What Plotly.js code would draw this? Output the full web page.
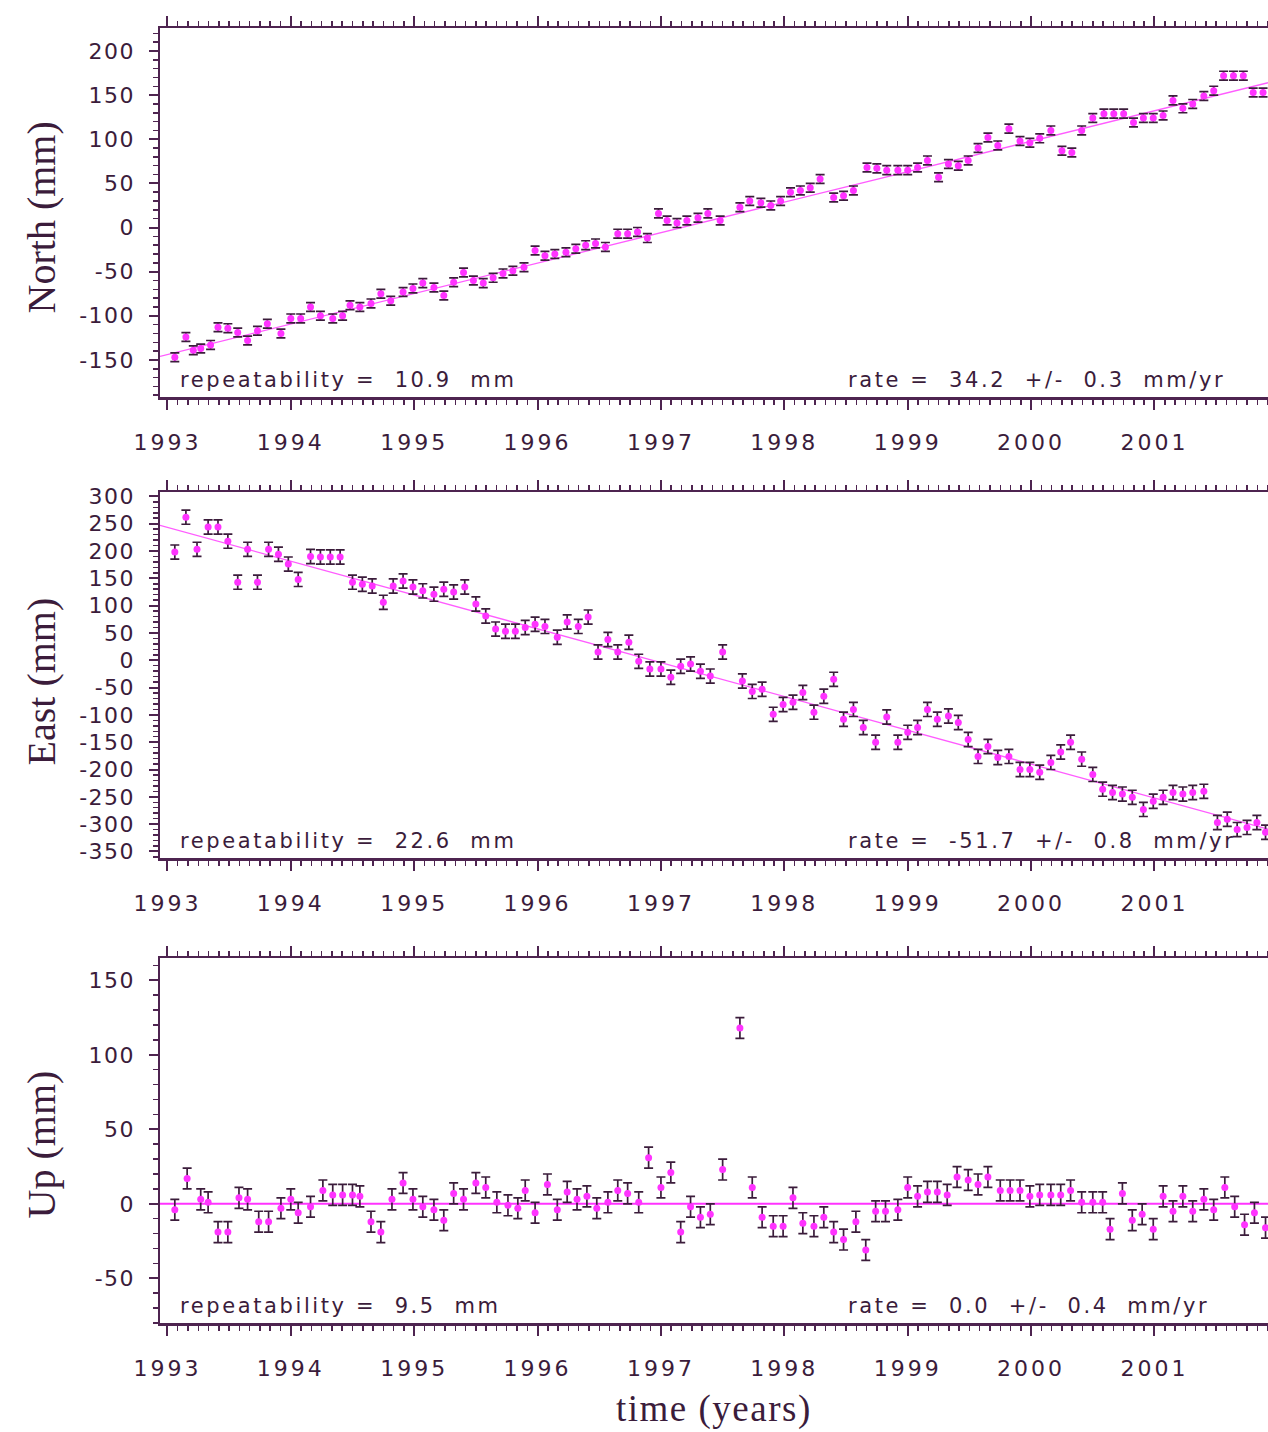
<!DOCTYPE html>
<html>
<head>
<meta charset="utf-8">
<script src="https://cdn.plot.ly/plotly-3.0.1.min.js"></script>
<style>
html,body{margin:0;padding:0;background:#fff;overflow:hidden;}
#chart{width:1268px;height:1432px;}
</style>
</head>
<body>
<div id="chart"></div>
<script>
// ---- North component (decimal year, mm) ----
const tN = [1993.06,1993.15,1993.21,1993.27,1993.35,1993.41,1993.49,1993.57,1993.65,1993.73,1993.81,1993.92,1994.00,1994.08,1994.16,1994.24,1994.34,1994.42,1994.48,1994.56,1994.65,1994.73,1994.81,1994.91,1994.99,1995.07,1995.16,1995.24,1995.32,1995.40,1995.48,1995.56,1995.64,1995.72,1995.80,1995.89,1995.98,1996.06,1996.14,1996.23,1996.31,1996.39,1996.47,1996.55,1996.65,1996.73,1996.81,1996.89,1996.98,1997.05,1997.13,1997.21,1997.30,1997.38,1997.48,1997.64,1997.72,1997.81,1997.89,1997.97,1998.05,1998.13,1998.21,1998.29,1998.40,1998.48,1998.56,1998.67,1998.75,1998.83,1998.92,1999.00,1999.08,1999.16,1999.25,1999.33,1999.41,1999.49,1999.57,1999.65,1999.73,1999.82,1999.91,1999.99,2000.07,2000.16,2000.25,2000.33,2000.41,2000.50,2000.59,2000.67,2000.75,2000.83,2000.91,2000.99,2001.07,2001.15,2001.23,2001.31,2001.40,2001.48,2001.56,2001.64,2001.72,2001.80,2001.88];
const vN = [-147,-124,-139,-137,-133,-113,-114,-119,-128,-117,-109,-120,-103,-103,-90,-100,-103,-100,-88,-90,-86,-75,-83,-73,-69,-63,-68,-77,-62,-51,-60,-63,-57,-52,-49,-45,-26,-32,-30,-28,-24,-20,-18,-22,-7,-7,-5,-12,16,8,5,8,11,16,8,23,30,28,25,30,40,42,45,55,34,36,42,68,67,65,65,65,68,76,57,72,70,76,90,102,93,112,98,96,101,110,87,85,110,124,129,129,129,119,124,124,127,144,135,140,149,155,172,172,172,153,153];

// ---- East component ----
const tE = [1993.06,1993.15,1993.24,1993.33,1993.41,1993.49,1993.57,1993.65,1993.73,1993.82,1993.90,1993.98,1994.06,1994.16,1994.24,1994.32,1994.40,1994.50,1994.58,1994.66,1994.75,1994.83,1994.91,1994.99,1995.07,1995.16,1995.24,1995.32,1995.41,1995.50,1995.58,1995.66,1995.74,1995.82,1995.90,1995.98,1996.06,1996.16,1996.24,1996.33,1996.41,1996.49,1996.57,1996.65,1996.74,1996.82,1996.91,1997.00,1997.08,1997.16,1997.24,1997.32,1997.40,1997.50,1997.66,1997.74,1997.82,1997.91,1997.99,1998.07,1998.15,1998.24,1998.32,1998.40,1998.48,1998.56,1998.64,1998.74,1998.83,1998.92,1999.00,1999.08,1999.16,1999.24,1999.33,1999.41,1999.49,1999.57,1999.65,1999.73,1999.82,1999.91,1999.99,2000.07,2000.16,2000.24,2000.32,2000.41,2000.50,2000.58,2000.66,2000.74,2000.82,2000.91,2000.99,2001.07,2001.15,2001.23,2001.31,2001.40,2001.51,2001.59,2001.67,2001.75,2001.83,2001.90];
const vE = [198,262,203,244,244,218,143,203,143,203,194,176,148,190,189,189,189,143,139,136,106,136,145,134,127,121,130,125,134,103,81,57,53,53,60,66,62,42,70,62,79,15,38,15,33,-2,-16,-16,-31,-11,-7,-20,-29,15,-38,-57,-53,-99,-81,-77,-59,-95,-66,-35,-108,-90,-123,-150,-104,-150,-132,-123,-90,-108,-102,-114,-145,-176,-158,-178,-176,-200,-200,-205,-187,-168,-150,-181,-209,-236,-242,-245,-251,-273,-258,-251,-242,-245,-242,-240,-297,-291,-310,-306,-297,-315];

// ---- Up component ----
const tU = [1993.06,1993.16,1993.27,1993.33,1993.41,1993.49,1993.58,1993.65,1993.74,1993.82,1993.92,1994.00,1994.06,1994.16,1994.26,1994.34,1994.42,1994.50,1994.56,1994.65,1994.73,1994.82,1994.91,1994.99,1995.07,1995.16,1995.24,1995.32,1995.40,1995.50,1995.58,1995.67,1995.76,1995.84,1995.90,1995.98,1996.08,1996.16,1996.24,1996.32,1996.40,1996.48,1996.57,1996.65,1996.73,1996.82,1996.90,1997.00,1997.08,1997.16,1997.24,1997.32,1997.40,1997.50,1997.64,1997.74,1997.82,1997.91,1997.99,1998.07,1998.15,1998.24,1998.32,1998.40,1998.48,1998.58,1998.66,1998.74,1998.82,1998.92,1999.00,1999.08,1999.16,1999.24,1999.32,1999.40,1999.49,1999.57,1999.65,1999.75,1999.83,1999.91,1999.99,2000.07,2000.16,2000.24,2000.32,2000.41,2000.50,2000.58,2000.64,2000.74,2000.82,2000.90,2000.99,2001.07,2001.15,2001.23,2001.31,2001.40,2001.48,2001.57,2001.65,2001.73,2001.81,2001.90];
const vU = [-4,17,3,1,-19,-19,4,3,-12,-12,-3,3,-6,-2,9,6,6,6,5,-12,-19,3,14,3,-2,-4,-11,7,3,14,11,1,-1,-3,9,-6,13,-4,8,3,5,-3,1,9,7,1,31,11,21,-19,-2,-9,-7,23,118,11,-9,-15,-15,4,-13,-15,-9,-19,-24,-12,-31,-5,-5,-4,11,5,8,8,6,18,16,13,18,9,9,9,5,6,6,6,9,1,1,1,-17,7,-11,-7,-17,5,-5,5,-5,3,-4,11,-2,-14,-6,-16];

// ---- fitted trend lines (end points) ----
const fitT = [1992.94, 2001.92];
const fitN = [-146, 164];
const fitE = [247, -309];
const fitU = [0, 0];

// ---- error bar sizes (mm) ----
const errN = 5, errE = 13, errU = 7;

// ---- tick labels ----
const yearTicks = [1993, 1994, 1995, 1996, 1997, 1998, 1999, 2000, 2001];
const northTicks = [-150, -100, -50, 0, 50, 100, 150, 200];
const northLabels = ['-150', '-100', '-50', '0', '50', '100', '150', '200'];
const eastTicks = [-350, -300, -250, -200, -150, -100, -50, 0, 50, 100, 150, 200, 250, 300];
const eastLabels = ['-350', '-300', '-250', '-200', '-150', '-100', '-50', '0', '50', '100', '150', '200', '250', '300'];
const upTicks = [-50, 0, 50, 100, 150];
const upLabels = ['-50', '0', '50', '100', '150'];

// ---- text ----
const yTitles = ["North (mm)", "East (mm)", "Up (mm)"];
const repText = ["repeatability\u00A0=\u00A0 10.9\u00A0 mm", "repeatability\u00A0=\u00A0 22.6\u00A0 mm", "repeatability\u00A0=\u00A0 9.5\u00A0 mm"];
const rateText = ["rate\u00A0=\u00A0 34.2\u00A0 +/-\u00A0 0.3\u00A0 mm/yr", "rate\u00A0=\u00A0 -51.7\u00A0 +/-\u00A0 0.8\u00A0 mm/yr", "rate\u00A0=\u00A0 0.0\u00A0 +/-\u00A0 0.4\u00A0 mm/yr"];
const xTitle = "time (years)";

const MAG = '#ff33ff', DARK = '#3b1c3b', AX = '#4e2450';

function pts(t, v, err, n) {
  return {
    x: t, y: v, type: 'scatter', mode: 'markers',
    xaxis: 'x' + (n === 1 ? '' : n), yaxis: 'y' + (n === 1 ? '' : n),
    marker: {color: MAG, size: 7, symbol: 'circle'},
    error_y: {type: 'constant', value: err, color: DARK, thickness: 1.7, width: 4.5},
    showlegend: false, hoverinfo: 'skip'
  };
}
function fit(v, n, w, op) {
  return {
    x: fitT, y: v, type: 'scatter', mode: 'lines',
    xaxis: 'x' + (n === 1 ? '' : n), yaxis: 'y' + (n === 1 ? '' : n),
    line: {color: MAG, width: w}, opacity: op,
    showlegend: false, hoverinfo: 'skip'
  };
}

const data = [fit(fitN, 1, 1.3, 0.8), pts(tN, vN, errN, 1), fit(fitE, 2, 1.3, 0.8), pts(tE, vE, errE, 2), fit(fitU, 3, 2, 1), pts(tU, vU, errU, 3)];

const tickFont = {family: 'DejaVu Sans, sans-serif', size: 22, color: DARK};

function xax(anchor) {
  return {
    anchor: anchor, range: [1992.94, 2001.92],
    tickmode: 'array', tickvals: yearTicks, ticktext: yearTicks.map(String),
    ticks: 'outside', ticklen: 10, tickwidth: 2, tickcolor: AX,
    minor: {tick0: 1993, dtick: 0.0833333, ticks: 'outside', ticklen: 5, tickwidth: 1.5, tickcolor: AX, showgrid: false},
    showline: true, linecolor: AX, linewidth: 2.5, mirror: 'ticks',
    showgrid: false, zeroline: false,
    tickfont: tickFont, ticklabelstandoff: 14
  };
}
function yax(anchor, range, domain, vals, labels) {
  return {
    anchor: anchor, range: range, domain: domain,
    tickmode: 'array', tickvals: vals, ticktext: labels,
    ticks: 'outside', ticklen: 9, tickwidth: 2, tickcolor: AX,
    minor: {tick0: 0, dtick: 10, ticks: 'outside', ticklen: 5, tickwidth: 1.5, tickcolor: AX, showgrid: false},
    showline: true, linecolor: AX, linewidth: 2.5, mirror: false,
    showgrid: false, zeroline: false,
    tickfont: tickFont, ticklabelstandoff: 9
  };
}

const H = 1432;
const dom1 = [1 - 397 / H, 1 - 28 / H];
const dom2 = [1 - 858 / H, 1 - 492 / H];
const dom3 = [1 - 1323 / H, 1 - 958 / H];

const annotations = [];
const doms = [dom1, dom2, dom3];
const titleCenters = [217, 681, 1144];
for (let i = 0; i < 3; i++) {
  const d = doms[i];
  annotations.push({
    xref: 'paper', yref: 'paper', x: -0.107, y: 1 - titleCenters[i] / H,
    text: yTitles[i], textangle: -90, showarrow: false, xanchor: 'center', yanchor: 'middle',
    font: {family: 'Liberation Serif, Times New Roman, serif', size: 40, color: DARK}
  });
  annotations.push({
    xref: 'paper', yref: 'paper', x: 0.017, y: d[0] + 0.002,
    text: repText[i], showarrow: false, xanchor: 'left', yanchor: 'bottom',
    font: {family: 'DejaVu Sans, sans-serif', size: 21, color: DARK}
  });
  annotations.push({
    xref: 'paper', yref: 'paper', x: 0.619, y: d[0] + 0.002,
    text: rateText[i], showarrow: false, xanchor: 'left', yanchor: 'bottom',
    font: {family: 'DejaVu Sans, sans-serif', size: 21, color: DARK}
  });
}
annotations.push({
  xref: 'paper', yref: 'paper', x: 0.5, y: 1 - 1409 / H,
  text: xTitle, showarrow: false, xanchor: 'center', yanchor: 'middle',
  font: {family: 'Liberation Serif, Times New Roman, serif', size: 37, color: DARK}
});

const layout = {
  width: 1268, height: 1432,
  margin: {l: 160, r: 0, t: 0, b: 0},
  paper_bgcolor: '#ffffff', plot_bgcolor: '#ffffff',
  showlegend: false,
  xaxis: xax('y'), xaxis2: xax('y2'), xaxis3: xax('y3'),
  yaxis: yax('x', [-192, 226], dom1, northTicks, northLabels),
  yaxis2: yax('x2', [-362, 308], dom2, eastTicks, eastLabels),
  yaxis3: yax('x3', [-80, 165], dom3, upTicks, upLabels),
  annotations: annotations
};

Plotly.newPlot('chart', data, layout, {displayModeBar: false, staticPlot: true}).then(function (gd) {
  // widen the lettering like the horizontally stretched original
  gd.querySelectorAll('.xtick text, .x2tick text, .x3tick text').forEach(function (el) { el.style.letterSpacing = '3px'; });
  gd.querySelectorAll('.ytick text, .y2tick text, .y3tick text').forEach(function (el) { el.style.letterSpacing = '1.5px'; });
  gd.querySelectorAll('.annotation-text').forEach(function (el) {
    const s = el.textContent;
    let left = null;
    if (s.indexOf('repeat') === 0) left = 180;
    else if (s.indexOf('rate') === 0) left = 848;
    if (s.indexOf('time') === 0) el.style.letterSpacing = '1.5px';
    if (left !== null) {
      el.style.letterSpacing = '2.6px';
      const box = el.getBoundingClientRect();
      const dx = left - box.left;
      el.setAttribute('transform', 'translate(' + dx + ',0)');
    }
  });
});
</script>
</body>
</html>
